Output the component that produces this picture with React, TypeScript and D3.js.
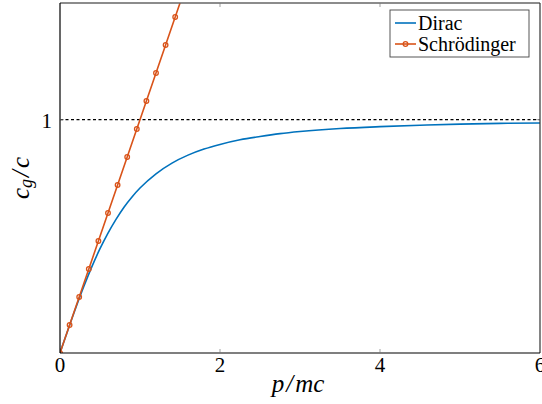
import React from "react";
import * as d3 from "d3";

const diracP = [0, 0.1, 0.2, 0.3, 0.4, 0.5, 0.6, 0.7, 0.8, 0.9, 1.0, 1.2, 1.4, 1.6, 1.8, 2.0, 2.25, 2.5, 2.75, 3.0, 3.5, 4.0, 4.5, 5.0, 5.5, 6.0];
const diracV = [0, 0.0995, 0.196, 0.287, 0.371, 0.447, 0.514, 0.573, 0.625, 0.669, 0.707, 0.768, 0.814, 0.848, 0.874, 0.894, 0.914, 0.928, 0.940, 0.949, 0.962, 0.970, 0.976, 0.981, 0.984, 0.986];
const schP = [0, 0.12, 0.24, 0.36, 0.48, 0.6, 0.72, 0.84, 0.96, 1.08, 1.2, 1.32, 1.44, 1.56];
const schV = [0, 0.12, 0.24, 0.36, 0.48, 0.6, 0.72, 0.84, 0.96, 1.08, 1.2, 1.32, 1.44, 1.56];
const xTicks = [0, 2, 4, 6];
const yTicks = [1];
const seriesNames = ["Dirac", "Schrödinger"];

const W = 542, H = 404;
const L = 60, R = 540, T = 3, B = 353;
const blue = "#0072BD", orange = "#D95319";
const font = '"Liberation Serif", "Times New Roman", Times, "DejaVu Serif", serif';

export default function App() {
  const x = d3.scaleLinear().domain([0, 6]).range([L, R]);
  const y = d3.scaleLinear().domain([0, 1.5]).range([B, T]);
  const diracPts: [number, number][] = diracP.map((p, i) => [p, diracV[i]]);
  const schPts: [number, number][] = schP.map((p, i) => [p, schV[i]]);
  const diracPath = d3.line<[number, number]>().x(d => x(d[0])).y(d => y(d[1])).curve(d3.curveMonotoneX)(diracPts) || "";
  const schPath = d3.line<[number, number]>().x(d => x(d[0])).y(d => y(d[1]))(schPts) || "";
  const tstyle = { fontFamily: font } as React.CSSProperties;
  return (
    <svg width={W} height={H} style={{ position: "absolute", left: 0, top: 0, background: "#fff" }}>
      <defs>
        <clipPath id="plotclip">
          <rect x={L} y={T} width={R - L} height={B - T} />
        </clipPath>
      </defs>
      <rect x={0} y={0} width={W} height={H} fill="#fff" />
      <line x1={L} x2={R} y1={y(1)} y2={y(1)} stroke="#000" strokeWidth={1.4} strokeDasharray="3,2.5" />
      <g clipPath="url(#plotclip)">
        <path d={diracPath} fill="none" stroke={blue} strokeWidth={1.6} />
        <path d={schPath} fill="none" stroke={orange} strokeWidth={1.6} />
        {schPts.map((d, i) => (
          <circle key={i} cx={x(d[0])} cy={y(d[1])} r={2.3} fill="none" stroke={orange} strokeWidth={1.3} />
        ))}
      </g>
      <line x1={L} x2={R} y1={T} y2={T} stroke="#666" strokeWidth={1.5} />
      <line x1={R} x2={R} y1={T} y2={B} stroke="#333" strokeWidth={1.2} />
      <line x1={L} x2={L} y1={T} y2={B} stroke="#000" strokeWidth={1.2} />
      <line x1={L} x2={R} y1={B} y2={B} stroke="#000" strokeWidth={1.2} />
      {xTicks.filter(t => t > 0 && t < 6).map(t => (
        <g key={t}>
          <line x1={x(t)} x2={x(t)} y1={B} y2={B - 4} stroke="#777" strokeWidth={0.7} />
          <line x1={x(t)} x2={x(t)} y1={T} y2={T + 4} stroke="#777" strokeWidth={0.7} />
        </g>
      ))}
      {yTicks.map(t => (
        <g key={t}>
          <line x1={L} x2={L + 4} y1={y(t)} y2={y(t)} stroke="#777" strokeWidth={0.7} />
          <line x1={R} x2={R - 4} y1={y(t)} y2={y(t)} stroke="#777" strokeWidth={0.7} />
        </g>
      ))}
      {xTicks.map(t => (
        <text key={t} x={x(t)} y={B + 19} textAnchor="middle" style={tstyle} fontSize={21} fill="#000">{t}</text>
      ))}
      {yTicks.map(t => (
        <text key={t} x={L - 8} y={y(t) + 8} textAnchor="end" style={tstyle} fontSize={21} fill="#000">{t}</text>
      ))}
      <text x={298} y={392} textAnchor="middle" style={tstyle} fontSize={25} fontStyle="italic" fill="#000">
        p<tspan dx={2}>/</tspan><tspan dx={2}>mc</tspan>
      </text>
      <text transform={`translate(29,${178}) rotate(-90)`} textAnchor="middle" style={tstyle} fontSize={25} fontStyle="italic" fill="#000">
        c<tspan fontSize={18} dy={3}>g</tspan><tspan dy={-3} dx={2}>/</tspan><tspan dx={2}>c</tspan>
      </text>
      <rect x={390} y={10} width={139} height={47} fill="#fff" stroke="#444" strokeWidth={0.9} />
      <line x1={395} x2={416} y1={23} y2={23} stroke={blue} strokeWidth={1.6} />
      <text x={418} y={30} style={tstyle} fontSize={20} fill="#000">{seriesNames[0]}</text>
      <line x1={395} x2={416} y1={44} y2={44} stroke={orange} strokeWidth={1.6} />
      <circle cx={405.5} cy={44} r={2.3} fill="none" stroke={orange} strokeWidth={1.3} />
      <text x={418} y={50.5} style={tstyle} fontSize={20} fill="#000">{seriesNames[1]}</text>
    </svg>
  );
}
